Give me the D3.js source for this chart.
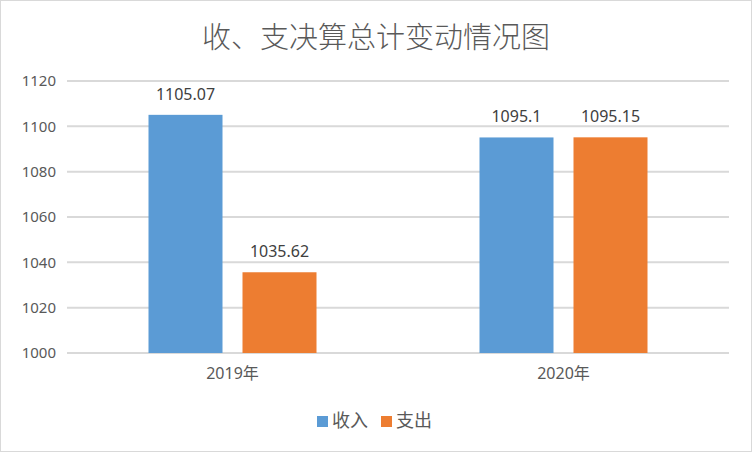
<!DOCTYPE html>
<html>
  <head>
    <meta charset="utf-8">
    <title>收、支决算总计变动情况图</title>
    <style>
      body { margin: 0; background: #fff; }
      svg { display: block; }
    </style>
  </head>
  <body>
    <script src="https://cdn.jsdelivr.net/npm/d3@7"></script>
    <script>
      var categories = ["2019年", "2020年"];
      var seriesNames = ["收入", "支出"];
      var income = [1105.07, 1095.1];
      var expense = [1035.62, 1095.15];
      var yTicks = [1000, 1020, 1040, 1060, 1080, 1100, 1120];

      var width = 752, height = 452;
      var colors = ["#5b9bd5", "#ed7d31"];
      var numFont = "'Liberation Sans Narrow', 'Noto Sans', sans-serif";
      var cjkFont = "'Noto Sans CJK SC', sans-serif";

      var svg = d3.select("body").append("svg")
                  .attr("width", width)
                  .attr("height", height);

      svg.append("rect")
         .attr("x", 0.5).attr("y", 0.5)
         .attr("width", width - 1).attr("height", height - 1)
         .attr("fill", "#fff").attr("stroke", "#d9d9d9");

      var x = d3.scaleBand().domain(categories).range([67, 729]);
      var y = d3.scaleLinear().domain([1000, 1120]).range([353, 81]);
      var inner = d3.scaleBand().domain(seriesNames).range([0, 168]).paddingInner(20 / 168 * 2 / (1 + 20 / 168));

      // grid lines
      svg.append("g").selectAll("line")
         .data(yTicks).enter().append("line")
         .attr("x1", 67).attr("x2", 729)
         .attr("y1", function(d) { return y(d); })
         .attr("y2", function(d) { return y(d); })
         .attr("stroke", "#d9d9d9").attr("stroke-width", 2);

      // y axis labels
      var yAxis = d3.axisLeft(y).tickValues(yTicks).tickFormat(d3.format("d")).tickSize(0).tickPadding(0);
      var ya = svg.append("g").attr("transform", "translate(56,0)").call(yAxis);
      ya.select(".domain").remove();
      ya.selectAll("text").attr("font-family", numFont).attr("font-size", 15).attr("fill", "#595959");

      var data = categories.map(function(c, i) {
        return { cat: c, vals: [income[i], expense[i]] };
      });

      var groups = svg.append("g").selectAll("g")
         .data(data).enter().append("g")
         .attr("transform", function(d) { return "translate(" + (x(d.cat) + x.bandwidth() / 2 - 84) + ",0)"; });

      groups.selectAll("rect")
         .data(function(d) { return d.vals.map(function(v, j) { return { name: seriesNames[j], v: v, j: j }; }); })
         .enter().append("rect")
         .attr("x", function(d) { return inner(d.name); })
         .attr("width", inner.bandwidth())
         .attr("y", function(d) { return y(d.v); })
         .attr("height", function(d) { return y(1000) - y(d.v); })
         .attr("fill", function(d) { return colors[d.j]; });

      groups.selectAll("text")
         .data(function(d) { return d.vals.map(function(v, j) { return { name: seriesNames[j], v: v }; }); })
         .enter().append("text")
         .attr("x", function(d) { return inner(d.name) + inner.bandwidth() / 2; })
         .attr("y", function(d) { return y(d.v) - 15; })
         .attr("text-anchor", "middle")
         .attr("font-family", numFont).attr("font-size", 16).attr("fill", "#404040")
         .text(function(d) { return d.v; });

      // x axis labels
      var xAxis = d3.axisBottom(x).tickSize(0).tickPadding(0);
      var xa = svg.append("g").attr("transform", "translate(0,368)").call(xAxis);
      xa.select(".domain").remove();
      xa.selectAll("text").attr("font-family", numFont + ", " + cjkFont).attr("font-size", 16).attr("fill", "#595959");

      // title
      svg.append("text")
         .attr("x", 376).attr("y", 48)
         .attr("text-anchor", "middle")
         .attr("font-family", cjkFont).attr("font-weight", 300)
         .attr("font-size", 29).attr("fill", "#595959")
         .text("收、支决算总计变动情况图");

      // legend
      var legend = svg.append("g").selectAll("g")
         .data(seriesNames).enter().append("g")
         .attr("transform", function(d, i) { return "translate(" + (317 + i * 64) + ",416)"; });
      legend.append("rect").attr("width", 11).attr("height", 11)
            .attr("fill", function(d, i) { return colors[i]; });
      legend.append("text").attr("x", 15).attr("y", 11)
            .attr("font-family", cjkFont).attr("font-size", 18).attr("fill", "#595959")
            .text(function(d) { return d; });
    </script>
  </body>
</html>
